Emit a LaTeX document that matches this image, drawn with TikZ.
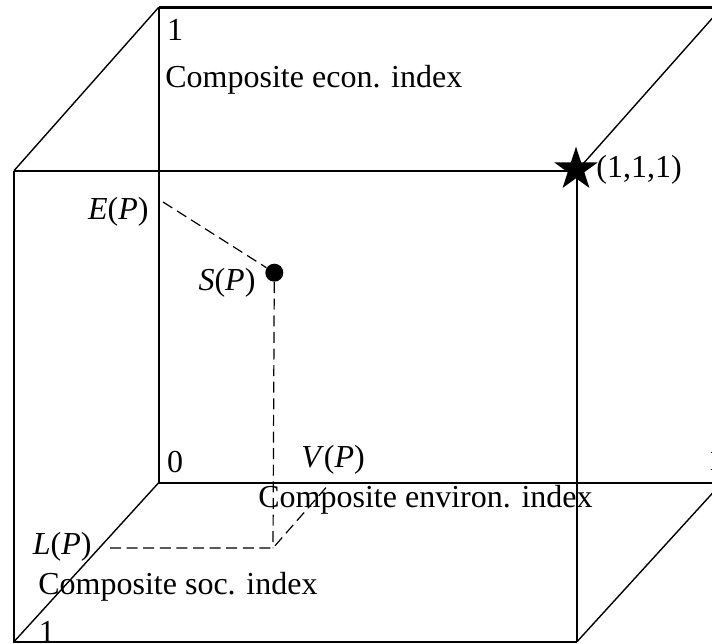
\documentclass[tikz,border=0pt]{standalone}
\usepackage{fontspec}
\setmainfont{Liberation Serif}
\usetikzlibrary{positioning,shapes.geometric}
\tikzset{
  cube-edge/.style={draw=black,line width=1.2pt},
  cube-depth/.style={draw=black,line width=0.7pt},
  proj-line/.style={draw=black,line width=0.6pt,dash pattern=on 5.5pt off 2.8pt},
  pt-dot/.style={circle,fill=black,inner sep=0pt,minimum size=9pt},
  pt-star/.style={star,star points=5,star point ratio=2.6,fill=black,
    inner sep=0pt,minimum size=22.8pt},
  lbl/.style={inner sep=0pt,font=\fontsize{16}{19}\selectfont},
}

\begin{document}
\begin{tikzpicture}[x=0.5pt,y=-0.5pt]
  \clip (0,0) rectangle (712,643);
  % corners of the unit cube
  \coordinate (f-tl) at (14,170.7);
  \coordinate (f-bl) at (14,641.7);
  \coordinate (f-br) at (577,641.7);
  \coordinate (b-tl) at (158.7,7.3);
  \coordinate (b-tr) at (722,7.3);
  \coordinate (b-bl) at (158.7,482.7);
  \coordinate (b-br) at (722,482.7);
  % feet of the projections
  \coordinate (ep-foot) at (163,202);
  \coordinate (lp-foot) at (110,548);
  \coordinate (vp-foot) at (330,483);
  \coordinate (floor-pt) at (273,548);

  \draw[cube-edge] (b-tl) -- (b-tr);
  \draw[cube-edge] (b-tl) -- (b-bl) -- (b-br);
  \draw[cube-edge] (b-tr) -- (b-br);
  \draw[cube-edge] (f-tl) -- (577,170.7);
  \draw[cube-edge] (f-tl) -- (f-bl) -- (f-br);
  \draw[cube-depth] (577,170.7) -- (f-br);
  \draw[cube-depth] (b-tl) -- (f-tl);
  \draw[cube-depth] (b-bl) -- (f-bl);
  \draw[cube-depth] (577,170.7) -- (b-tr);
  \draw[cube-depth] (f-br) -- (b-br);

  \node[pt-star] (ideal) at (576,169.5) {};
  \node[pt-dot] (sp) at (274.3,272.7) {};

  \draw[proj-line] (ep-foot) -- (sp);
  \draw[proj-line] (sp) -- (floor-pt);
  \draw[proj-line] (lp-foot) -- (floor-pt) -- (vp-foot);

  % labels
  \node[lbl] (econ-one) at (175,30) {1};
  \node[lbl,anchor=west] (econ-axis) at (165,80) {Composite econ. index};
  \node[lbl,anchor=east] (ep) at (149,212) {\textit{E}(\textit{P})};
  \node[lbl] (sp-lbl) at (227,283) {\textit{S}(\textit{P})};
  \node[lbl,anchor=west] (ideal-lbl) at (596,170) {(1,1,1)};
  \node[lbl] (origin) at (175,461.7) {0};
  \node[lbl] (vp) at (333,460) {\textit{V}(\textit{P})};
  \node[lbl] (env-one) at (716,460) {1};
  \node[lbl,anchor=west] (env-axis) at (258,500) {Composite environ. index};
  \node[lbl,anchor=east] (lp) at (92,547) {\textit{L}(\textit{P})};
  \node[lbl,anchor=west] (soc-axis) at (38,587) {Composite soc. index};
  \node[lbl] (soc-one) at (47,632) {1};
\end{tikzpicture}
\end{document}
